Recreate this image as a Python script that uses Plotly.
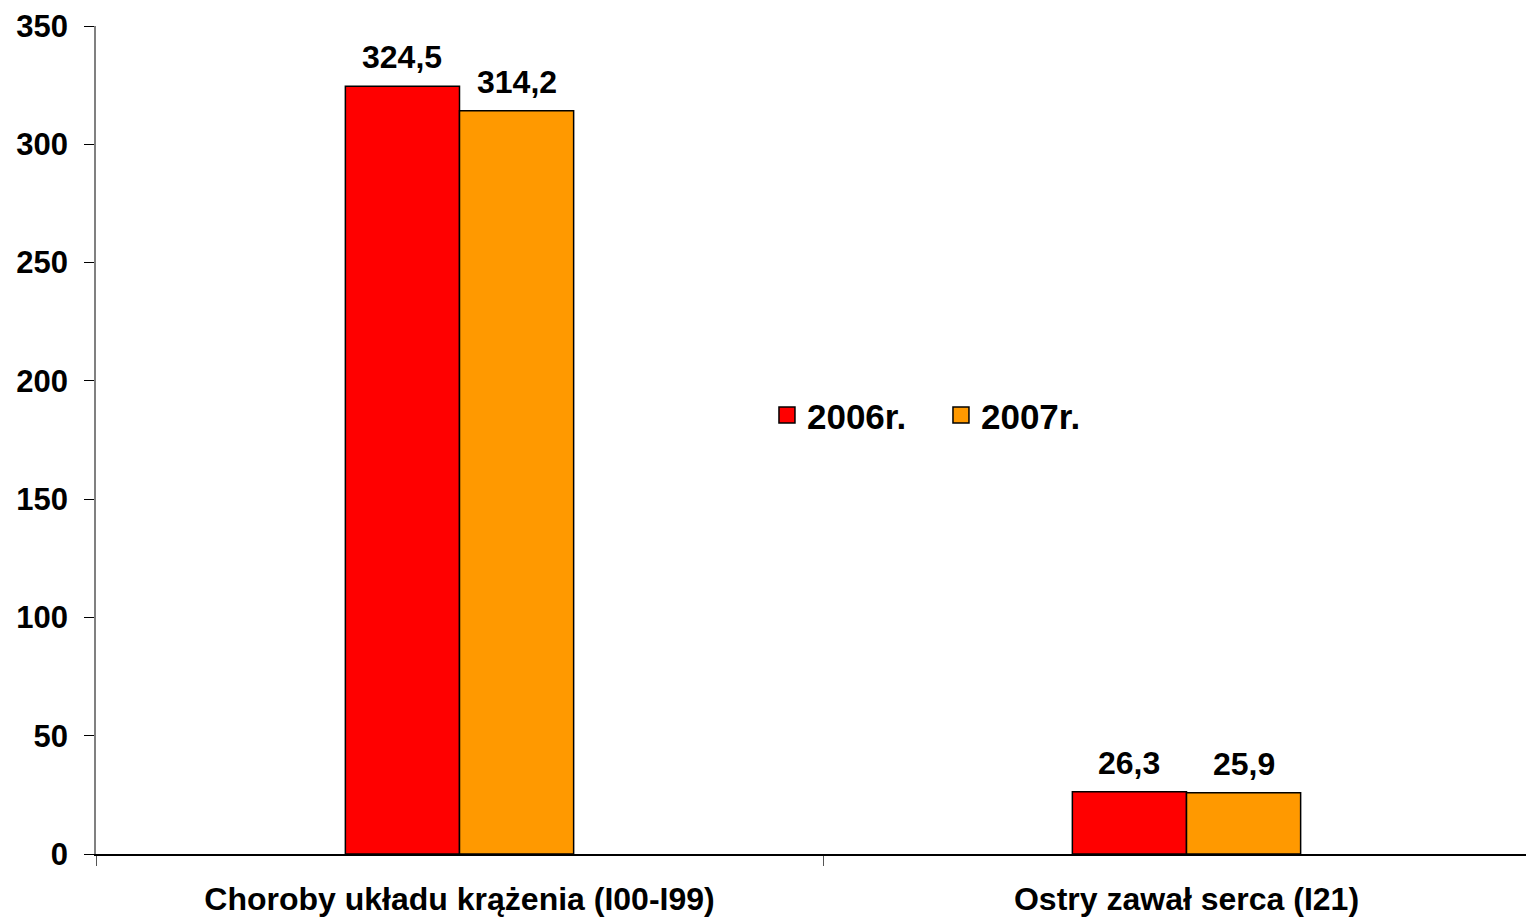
import plotly.graph_objects as go

categories = ["Choroby układu krążenia (I00-I99)", "Ostry zawał serca (I21)"]
series_names = ["2006r.", "2007r."]
values_2006 = [324.5, 26.3]
values_2007 = [314.2, 25.9]
colors = ["#FF0000", "#FF9900"]

FONT = "Liberation Sans, Arial, sans-serif"
BARGAP = 0.686

fig = go.Figure()
all_series = [values_2006, values_2007]
for name, vals, col in zip(series_names, all_series, colors):
    fig.add_trace(go.Bar(
        x=categories, y=vals, name=name, showlegend=False,
        marker=dict(color=col, line=dict(color="black", width=1.5)),
    ))
# legend entries (square swatches)
for name, col in zip(series_names, colors):
    fig.add_trace(go.Scatter(
        x=[None], y=[None], mode="markers", name=name,
        marker=dict(symbol="square", size=24, color=col, line=dict(color="black", width=1.5)),
    ))

# value labels above the bars (positioned through the axes' data scales)
bar_w = (1 - BARGAP) / len(all_series)
for s, vals in enumerate(all_series):
    off = (s - (len(all_series) - 1) / 2) * bar_w
    for i, v in enumerate(vals):
        fig.add_annotation(
            x=i + off, y=v, xref="x", yref="y",
            text=f"{v:.1f}".replace(".", ","), showarrow=False,
            yanchor="bottom", yshift=9,
            font=dict(family=FONT, size=32, color="black", weight="bold"),
        )

fig.update_layout(
    width=1526, height=912,
    margin=dict(l=88, r=0, t=18, b=66),
    paper_bgcolor="white", plot_bgcolor="white",
    separators=", ",
    barmode="group", bargap=BARGAP, bargroupgap=0,
    font=dict(family=FONT, size=32, color="black", weight="bold"),
    showlegend=True,
    legend=dict(orientation="h", x=0.4666, y=0.53, xanchor="left", yanchor="middle",
                font=dict(family=FONT, size=35, color="black", weight="bold"),
                bgcolor="rgba(0,0,0,0)", itemsizing="trace", entrywidth=129, entrywidthmode="pixels"),
    xaxis=dict(type="category", range=[-0.5, 1.478], showline=True, linecolor="black", linewidth=1.5,
               ticks="outside", tickson="boundaries", ticklen=10, tickcolor="#555555",
               ticklabelstandoff=16,
               showgrid=False, tickfont=dict(family=FONT, size=32, color="black", weight="bold")),
    yaxis=dict(range=[0, 350], dtick=50, showline=True, linecolor="#808080", linewidth=1.5,
               ticks="outside", ticklen=10, tickcolor="black", showgrid=False, zeroline=False,
               ticklabelstandoff=10,
               tickfont=dict(family=FONT, size=31, color="black", weight="bold")),
)

fig.write_html("out.html")
